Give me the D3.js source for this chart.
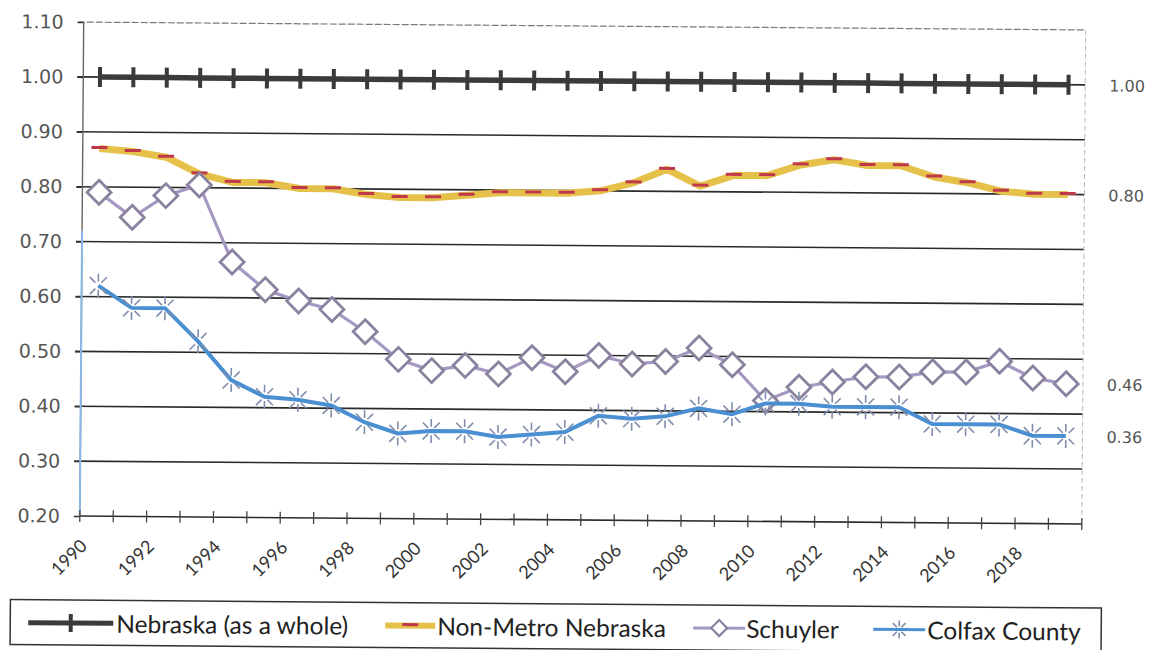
<!DOCTYPE html>
<html><head><meta charset="utf-8">
<script src="https://cdn.jsdelivr.net/npm/d3@7"></script>
<style>html,body{margin:0;padding:0;background:#fff;} svg{display:block}</style>
</head><body>
<svg id="c" width="1149" height="650"></svg>
<script>
// ---------------- data ----------------
const years = [1990,1991,1992,1993,1994,1995,1996,1997,1998,1999,2000,2001,2002,2003,2004,2005,2006,2007,2008,2009,2010,2011,2012,2013,2014,2015,2016,2017,2018,2019];
const nebraska = [1.00,1.00,1.00,1.00,1.00,1.00,1.00,1.00,1.00,1.00,1.00,1.00,1.00,1.00,1.00,1.00,1.00,1.00,1.00,1.00,1.00,1.00,1.00,1.00,1.00,1.00,1.00,1.00,1.00,1.00];
const nonMetro = [0.87,0.865,0.855,0.825,0.81,0.81,0.80,0.80,0.79,0.785,0.785,0.79,0.795,0.795,0.795,0.80,0.815,0.84,0.81,0.83,0.83,0.85,0.86,0.85,0.85,0.83,0.82,0.805,0.80,0.80];
const schuyler = [0.79,0.745,0.785,0.805,0.665,0.615,0.595,0.58,0.54,0.49,0.47,0.48,0.465,0.495,0.47,0.50,0.485,0.49,0.515,0.485,0.42,0.445,0.455,0.465,0.465,0.475,0.475,0.495,0.465,0.455];
const colfax = [0.62,0.58,0.58,0.52,0.45,0.42,0.415,0.405,0.375,0.355,0.36,0.36,0.35,0.355,0.36,0.39,0.385,0.39,0.405,0.395,0.415,0.415,0.41,0.41,0.41,0.38,0.38,0.38,0.36,0.36];
const yTickValues = [0.20,0.30,0.40,0.50,0.60,0.70,0.80,0.90,1.00,1.10];
const xLabelYears = [1990,1992,1994,1996,1998,2000,2002,2004,2006,2008,2010,2012,2014,2016,2018];
const seriesNames = ["Nebraska (as a whole)","Non-Metro Nebraska","Schuyler","Colfax County"];
const endLabels = ["1.00","0.80","0.46","0.36"];
const endValues = [nebraska[29], nonMetro[29], schuyler[29], colfax[29]];

// ---------------- layout ----------------
const L = 81.75, R = 1083.75, T = 26, B = 520;
const svg = d3.select("#c");
svg.append("rect").attr("width",1149).attr("height",650).attr("fill","#ffffff");
const root = svg.append("g").attr("transform","rotate(0.45,582.75,273)");

const x = d3.scaleBand().domain(years).range([L, R]).padding(0);
const cx = d => x(d) + x.bandwidth() / 2;
const y = d3.scaleLinear().domain([0.2, 1.1]).range([B, T]);

// gridlines
root.append("g").selectAll("line").data(yTickValues.filter(v => v > 0.25 && v < 1.05)).join("line")
  .attr("x1", L - 6).attr("x2", R).attr("y1", d => y(d)).attr("y2", d => y(d))
  .attr("stroke", "#2a2a2a").attr("stroke-width", 1.6);
root.append("line").attr("x1", L - 6).attr("x2", R).attr("y1", y(1.1)).attr("y2", y(1.1))
  .attr("stroke", "#7a7a7a").attr("stroke-width", 1.2).attr("stroke-dasharray", "7,2");
// right border
root.append("line").attr("x1", R).attr("x2", R).attr("y1", y(1.1)).attr("y2", y(0.2))
  .attr("stroke", "#bbbbbb").attr("stroke-width", 1).attr("stroke-dasharray", "5,3");

// y axis
const yAxis = root.append("g").attr("transform", `translate(${L},0)`)
  .call(d3.axisLeft(y).tickValues(yTickValues).tickFormat(d3.format(".2f")).tickSize(6).tickPadding(14));
yAxis.select(".domain").remove();
yAxis.selectAll(".tick line").attr("stroke", "#333").attr("stroke-width", 1.4);
yAxis.selectAll("text").attr("font-family", "'DejaVu Sans', Verdana, sans-serif")
  .attr("font-size", 19).attr("fill", "#555");
root.append("line").attr("x1", L).attr("x2", L).attr("y1", y(1.1)).attr("y2", y(0.2))
  .attr("stroke", "#666").attr("stroke-width", 1.4);
root.append("line").attr("x1", L).attr("x2", L).attr("y1", y(0.72)).attr("y2", y(0.2))
  .attr("stroke", "#8cb8e6").attr("stroke-width", 2);

// x axis
root.append("line").attr("x1", L).attr("x2", R).attr("y1", B).attr("y2", B)
  .attr("stroke", "#2a2a2a").attr("stroke-width", 1.6);
root.append("g").selectAll("line").data(years.map(d => x(d)).concat([R])).join("line")
  .attr("x1", d => d).attr("x2", d => d).attr("y1", B - 6).attr("y2", B + 6)
  .attr("stroke", "#444").attr("stroke-width", 1.3);
const xAxis = root.append("g").attr("transform", `translate(0,${B})`)
  .call(d3.axisBottom(x).tickValues(xLabelYears).tickSize(0).tickFormat(d => String(d)));
xAxis.select(".domain").remove();
xAxis.selectAll("text").attr("y", 0).attr("dy", 0).attr("text-anchor", "end")
  .attr("transform", "translate(-8,31) rotate(-45)")
  .attr("font-family", "Lato, 'Open Sans', sans-serif").attr("font-size", 18).attr("fill", "#333");

const line = d3.line().x((d, i) => cx(years[i])).y(d => y(d));

// marker painters
function plusMarker(g, px, py, s) {
  g.append("rect").attr("x", px - 2).attr("y", py - s).attr("width", 4).attr("height", 2 * s).attr("fill", "#3a3a3a");
}
function dashMarker(g, px, py, s) {
  g.append("rect").attr("x", px - s).attr("y", py - 2.5).attr("width", 2 * s).attr("height", 3).attr("fill", "#c0394a");
}
function diamondMarker(g, px, py, s, sw) {
  g.append("path").attr("d", `M${px},${py - s}L${px + s},${py}L${px},${py + s}L${px - s},${py}Z`)
    .attr("fill", "#ffffff").attr("stroke", "#8a829f").attr("stroke-width", sw);
}
function starMarker(g, px, py, s) {
  const angs = [90, 45, 135, 270, 225, 315];
  angs.forEach(a => {
    const r = a * Math.PI / 180;
    g.append("line").attr("x1", px + Math.cos(r) * s * 0.35).attr("y1", py + Math.sin(r) * s * 0.35)
      .attr("x2", px + Math.cos(r) * s).attr("y2", py + Math.sin(r) * s)
      .attr("stroke", "#7f8eab").attr("stroke-width", 1.6);
  });
}

// series
const gN = root.append("g");
gN.append("path").datum(nebraska).attr("d", line).attr("fill", "none").attr("stroke", "#3b3b3b").attr("stroke-width", 5.5);
nebraska.forEach((v, i) => plusMarker(gN, cx(years[i]), y(v), 10));

const gM = root.append("g");
gM.append("path").datum(nonMetro).attr("d", line).attr("fill", "none").attr("stroke", "#e5c14a").attr("stroke-width", 7).attr("stroke-linejoin", "round");
nonMetro.forEach((v, i) => dashMarker(gM, cx(years[i]), y(v), 8));

const gS = root.append("g");
gS.append("path").datum(schuyler).attr("d", line).attr("fill", "none").attr("stroke", "#a598c2").attr("stroke-width", 3.2);
schuyler.forEach((v, i) => diamondMarker(gS, cx(years[i]), y(v), 12, 2.8));

const gC = root.append("g");
gC.append("path").datum(colfax).attr("d", line).attr("fill", "none").attr("stroke", "#4b8fd3").attr("stroke-width", 4);
colfax.forEach((v, i) => starMarker(gC, cx(years[i]), y(v), 12));

// end labels
root.append("g").selectAll("text").data(endLabels).join("text")
  .attr("x", R + 24).attr("y", (d, i) => y(endValues[i]) + 1).attr("dominant-baseline", "central")
  .attr("font-family", "'DejaVu Sans', Verdana, sans-serif").attr("font-size", 16).attr("fill", "#555")
  .text(d => d);

// legend
const lg = root.append("g");
lg.append("rect").attr("x", 13).attr("y", 604).attr("width", 1091).attr("height", 45)
  .attr("fill", "none").attr("stroke", "#333").attr("stroke-width", 1.5);
const ly = 627;
const legendItems = [
  {x0: 31, x1: 116, tx: 119},
  {x0: 388, x1: 438, tx: 440},
  {x0: 696, x1: 748, tx: 749},
  {x0: 876, x1: 928, tx: 930}
];
lg.append("line").attr("x1", legendItems[0].x0).attr("x2", legendItems[0].x1).attr("y1", ly).attr("y2", ly).attr("stroke", "#3b3b3b").attr("stroke-width", 5);
plusMarker(lg, (legendItems[0].x0 + legendItems[0].x1) / 2, ly, 9);
lg.append("line").attr("x1", legendItems[1].x0).attr("x2", legendItems[1].x1).attr("y1", ly).attr("y2", ly).attr("stroke", "#e5c14a").attr("stroke-width", 6);
dashMarker(lg, (legendItems[1].x0 + legendItems[1].x1) / 2, ly, 8);
lg.append("line").attr("x1", legendItems[2].x0).attr("x2", legendItems[2].x1).attr("y1", ly).attr("y2", ly).attr("stroke", "#a598c2").attr("stroke-width", 3);
diamondMarker(lg, (legendItems[2].x0 + legendItems[2].x1) / 2, ly, 8, 2.2);
lg.append("line").attr("x1", legendItems[3].x0).attr("x2", legendItems[3].x1).attr("y1", ly).attr("y2", ly).attr("stroke", "#4b8fd3").attr("stroke-width", 3);
starMarker(lg, (legendItems[3].x0 + legendItems[3].x1) / 2, ly, 9);
lg.selectAll("text.leg").data(seriesNames).join("text").attr("class", "leg")
  .attr("x", (d, i) => legendItems[i].tx).attr("y", ly).attr("dominant-baseline", "central")
  .attr("font-family", "Lato, 'Open Sans', sans-serif").attr("font-size", 24.5).attr("fill", "#222")
  .text(d => d);
</script>
</body></html>
